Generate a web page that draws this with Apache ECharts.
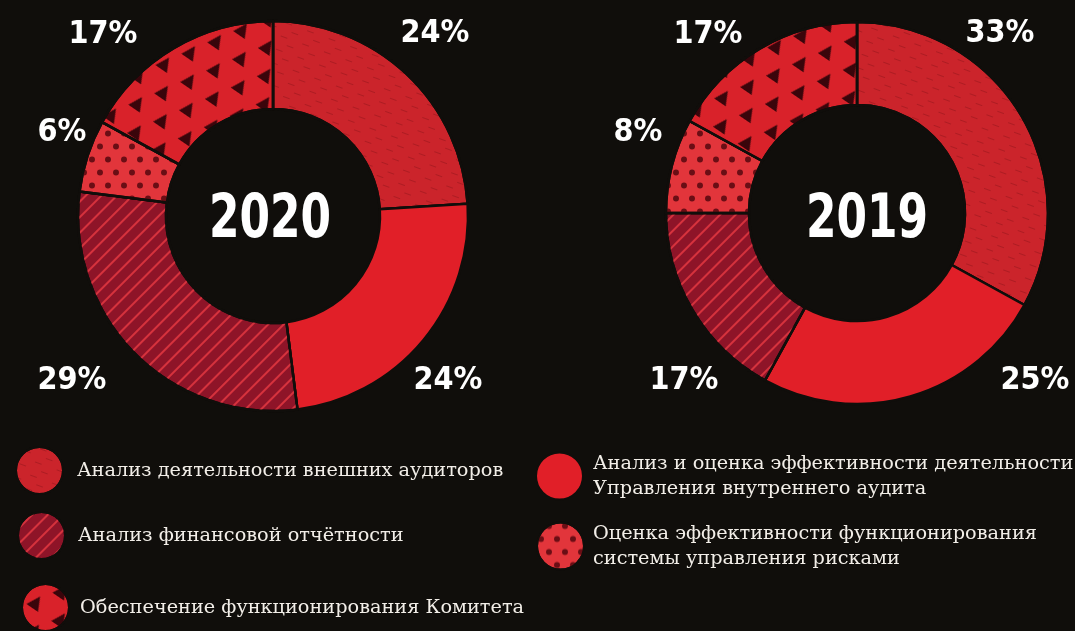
<!DOCTYPE html>
<html>
<head>
<meta charset="utf-8">
<script src="https://cdn.jsdelivr.net/npm/echarts@6/dist/echarts.min.js"></script>
<style>
  html, body { margin: 0; padding: 0; background: #100e0b; }
  #chart { width: 1075px; height: 631px; }
</style>
</head>
<body>
<div id="chart"></div>
<script>
// категории (порядок как в легенде и по кругу по часовой стрелке от 12 часов)
const categories = [
  'Анализ деятельности внешних аудиторов',
  'Анализ и оценка эффективности деятельности Управления внутреннего аудита',
  'Анализ финансовой отчётности',
  'Оценка эффективности функционирования системы управления рисками',
  'Обеспечение функционирования Комитета'
]
const years = ['2020', '2019']
const values2020 = [24, 24, 29, 6, 17]
const values2019 = [33, 25, 17, 8, 17]

// перенос строк в легенде
const legendWrap = {
  [categories[1]]: 'Анализ и оценка эффективности деятельности\nУправления внутреннего аудита',
  [categories[3]]: 'Оценка эффективности функционирования\nсистемы управления рисками'
}

const BG = '#100e0b'
const NARROW = "'Liberation Sans Narrow', 'DejaVu Sans Condensed', 'Roboto', sans-serif"
const SERIF = "'DejaVu Serif', 'Liberation Serif', serif"

// оформление секторов
const sliceStyles = [
  {
    color: '#cb242b',
    decal: {
      symbol: 'rect', color: 'rgba(70,0,5,0.22)', symbolSize: 1,
      dashArrayX: [[7, 16], [0, 9, 7, 7]], dashArrayY: [1, 6], rotation: 0.35
    }
  },
  { color: '#e11f28' },
  {
    color: '#8e1428',
    decal: {
      symbol: 'rect', color: 'rgba(232,58,66,0.8)', symbolSize: 1,
      dashArrayX: [1, 0], dashArrayY: [2, 9], rotation: -Math.PI / 4
    }
  },
  {
    color: '#e2353b',
    decal: {
      symbol: 'circle', color: '#6a0e15', symbolSize: 0.85,
      dashArrayX: [[8, 8], [0, 8, 8, 0]], dashArrayY: [7, 6], rotation: 0
    }
  },
  {
    color: '#d9222a',
    decal: {
      symbol: 'triangle', color: 'rgba(30,0,6,0.85)', symbolSize: 1,
      dashArrayX: [[14, 16], [0, 15, 14, 1]], dashArrayY: [14, 10], rotation: 0.6
    }
  }
]

// позиции подписей процентов
const labelPos = [
  [[435, 34], [448, 381], [72, 381], [62, 133], [103, 35]],
  [[1000, 34], [1035, 381], [684, 381], [638, 133], [708, 35]]
]

function makePie(idx, values, center, radius) {
  return {
    type: 'pie',
    name: years[idx],
    center: center,
    radius: radius,
    startAngle: 90,
    clockwise: true,
    silent: true,
    avoidLabelOverlap: false,
    itemStyle: { borderColor: BG, borderWidth: 2.5 },
    label: {
      show: true,
      position: 'outside',
      formatter: '{c}%',
      color: '#ffffff',
      fontFamily: NARROW,
      fontWeight: 'bold',
      fontSize: 32
    },
    labelLine: { show: false },
    labelLayout: function (params) {
      const p = labelPos[idx][params.dataIndex]
      return { x: p[0], y: p[1], align: 'center', verticalAlign: 'middle' }
    },
    data: categories.map((name, i) => ({
      name: name,
      value: values[i],
      itemStyle: sliceStyles[i]
    }))
  }
}

function makeLegend(name, left, top, pad) {
  return {
    show: true,
    left: left,
    top: top,
    padding: 0,
    orient: 'vertical',
    icon: 'circle',
    itemWidth: 47,
    itemHeight: 47,
    selectedMode: false,
    data: [name],
    formatter: n => legendWrap[n] || n,
    textStyle: {
      color: '#f2eee8',
      fontFamily: SERIF,
      fontSize: 19.3,
      lineHeight: 25,
      padding: [0, 0, 0, pad]
    }
  }
}

function yearText(text, x, y) {
  return {
    type: 'text', x: x, y: y, scaleX: 0.8,
    style: { text: text, align: 'center', verticalAlign: 'middle', fill: '#ffffff', font: 'bold 61px ' + NARROW }
  }
}

const chart = echarts.init(document.getElementById('chart'))

const option = {
  backgroundColor: BG,
  animation: false,
  legend: [
    makeLegend(categories[0], 15, 446, 9),
    makeLegend(categories[2], 17, 511, 8),
    makeLegend(categories[4], 21, 583, 6),
    makeLegend(categories[1], 535, 451, 5),
    makeLegend(categories[3], 536, 521, 4)
  ],
  graphic: [
    yearText(years[0], 270, 221),
    yearText(years[1], 867, 221)
  ],
  series: [
    makePie(0, values2020, [273, 216], [107, 195]),
    makePie(1, values2019, [857, 213], [108, 191])
  ]
}

chart.setOption(option)
window.addEventListener('resize', () => chart.resize())
</script>
</body>
</html>
